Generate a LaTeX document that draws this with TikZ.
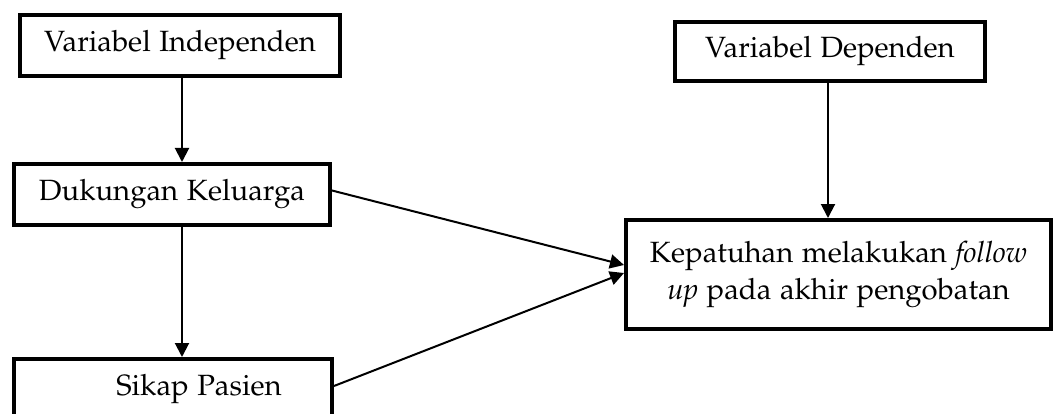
\documentclass[tikz,border=0pt]{standalone}
\usepackage[T1]{fontenc}
\usepackage{mathpazo}
\usetikzlibrary{arrows.meta}
\tikzset{
  box/.style={draw, line width=4pt, rectangle, inner sep=0pt, align=center,
    font=\fontencoding{T1}\fontfamily{pplx}\fontsize{29.3}{37}\selectfont},
  arr/.style={line width=2pt, -{Triangle[length=14pt,width=14pt]}}
}
\begin{document}
\begin{tikzpicture}[x=1pt,y=-1pt]
\useasboundingbox (0,0) rectangle (1054,414);
\begin{scope}
\clip (0,0) rectangle (1054,414);
\node[box, minimum width=320pt, minimum height=61pt] (b1) at (180,45.5) {Variabel Independen};
\node[box, minimum width=316pt, minimum height=61pt] (b2) at (172,194.5) {Dukungan Keluarga};
\node[box, minimum width=318pt, minimum height=61pt] (b3) at (173,389.5) {\hspace*{52pt}Sikap Pasien};
\node[box, minimum width=310pt, minimum height=59pt] (b4) at (830,51.5) {Variabel Dependen};
\node[box, minimum width=425pt, minimum height=109pt] (b5) at (838.5,274.5) {Kepatuhan melakukan \textit{follow}\\\textit{up} pada akhir pengobatan};
\draw[arr] ([xshift=2pt]b1.south) -- ([xshift=10pt]b2.north);
\draw[arr] ([xshift=10pt]b2.south) -- ([xshift=9pt]b3.north);
\draw[arr] ([xshift=-2pt]b4.south) -- ([xshift=-10.5pt]b5.north);
\draw[arr] ([yshift=4.5pt,xshift=-2pt]b2.east) -- ([yshift=9.5pt]b5.west);
\draw[arr] ([yshift=3.5pt]b3.east) -- ([yshift=1.5pt]b5.west);
\end{scope}
\end{tikzpicture}
\end{document}
